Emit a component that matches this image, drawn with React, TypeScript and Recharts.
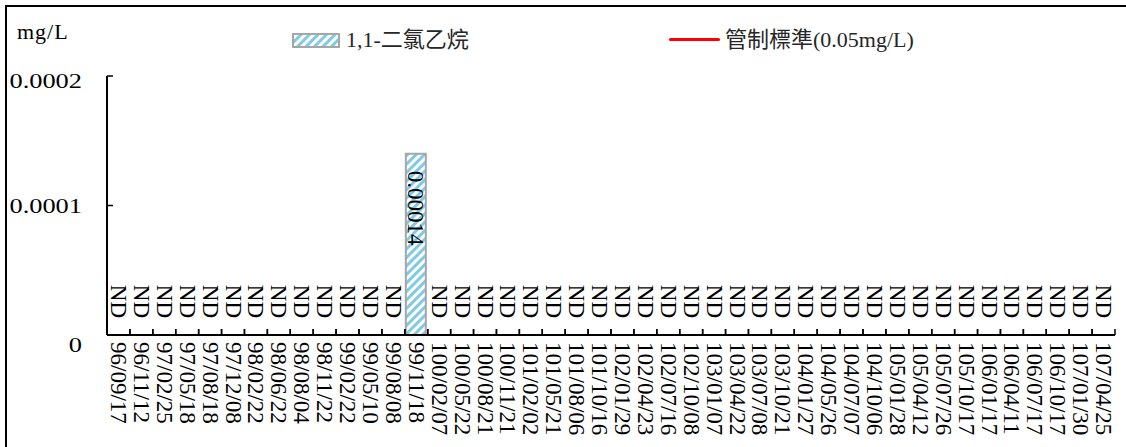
import { ComposedChart, Bar, Line, XAxis, YAxis } from "recharts";

const dates = [
  "96/09/17", "96/11/12", "97/02/25", "97/05/18", "97/08/18", "97/12/08",
  "98/02/22", "98/06/22", "98/08/04", "98/11/22", "99/02/22", "99/05/10",
  "99/08/08", "99/11/18", "100/02/07", "100/05/22", "100/08/21", "100/11/21",
  "101/02/02", "101/05/21", "101/08/06", "101/10/16", "102/01/29", "102/04/23",
  "102/07/16", "102/10/08", "103/01/07", "103/04/22", "103/07/08", "103/10/21",
  "104/01/27", "104/05/26", "104/07/07", "104/10/06", "105/01/28", "105/04/12",
  "105/07/26", "105/10/17", "106/01/17", "106/04/11", "106/07/17", "106/10/17",
  "107/01/30", "107/04/25",
];

// null = ND (not detected)
const dce: (number | null)[] = [
  null, null, null, null, null, null,
  null, null, null, null, null, null,
  null, 0.00014, null, null, null, null,
  null, null, null, null, null, null,
  null, null, null, null, null, null,
  null, null, null, null, null, null,
  null, null, null, null, null, null,
  null, null,
];

const limitValue = 0.05;
const yTicks = [0, 0.0001, 0.0002];

const seriesName = "1,1-二氯乙烷";
const limitName = "管制標準(0.05mg/L)";
const unit = "mg/L";

const data = dates.map((d, i) => ({ date: d, value: dce[i], limit: limitValue }));

const FONT = "'Liberation Serif', 'Times New Roman', 'Noto Sans CJK TC', serif";
const X_MARGIN = 7;
const Y_MARGIN = 26;
const HALF_BAND = 1008 / 44 / 2;

function DateTick(props: any) {
  const { x, y, payload, index } = props;
  const axisY = y - X_MARGIN;
  const half = payload?.offset || HALF_BAND;
  const nd = dce[index] == null;
  return (
    <g>
      <line x1={x - half} x2={x - half} y1={axisY} y2={axisY - 6} stroke="#000" strokeWidth={1.5} />
      <line x1={x + half} x2={x + half} y1={axisY} y2={axisY - 6} stroke="#000" strokeWidth={1.5} />
      {nd && (
        <text
          transform={`translate(${x},${axisY - 17}) rotate(90)`}
          textAnchor="end"
          dominantBaseline="central"
          fontSize={23}
          fontFamily={FONT}
          fill="#000"
        >
          ND
        </text>
      )}
      <text
        transform={`translate(${x},${axisY + 7}) rotate(90)`}
        textAnchor="start"
        dominantBaseline="central"
        fontSize={23}
        fontFamily={FONT}
        fill="#000"
      >
        {payload.value}
      </text>
    </g>
  );
}

function ValueTick(props: any) {
  const { x, y, payload } = props;
  const axisX = x + Y_MARGIN;
  // excel-ish label nudges: bottom label sits lower, top one a bit lower
  const dy = payload.value === 0 ? 9 : payload.value === yTicks[yTicks.length - 1] ? 4 : 0;
  return (
    <g>
      <line x1={axisX} x2={axisX + 6} y1={y} y2={y} stroke="#000" strokeWidth={1.5} />
      <text
        transform={`translate(${x + 1},${y + dy}) scale(1.2,1)`}
        textAnchor="end"
        dominantBaseline="central"
        fontSize={22}
        fontFamily={FONT}
        fill="#000"
      >
        {String(payload.value)}
      </text>
    </g>
  );
}

function BarValueLabel(props: any) {
  const { x, y, width, value } = props;
  if (value == null) return null;
  return (
    <text
      transform={`translate(${x + width / 2},${y + 17}) rotate(90)`}
      textAnchor="start"
      dominantBaseline="central"
      fontSize={23}
      fontFamily={FONT}
      fill="#000"
    >
      {value}
    </text>
  );
}

function Hatch({ id }: { id: string }) {
  return (
    <pattern id={id} width="6" height="6" patternUnits="userSpaceOnUse" patternTransform="rotate(45)">
      <rect width="6" height="6" fill="#fff" />
      <rect width="3" height="6" fill="#7fcbe6" />
    </pattern>
  );
}

export default function App() {
  return (
    <div style={{ position: "absolute", left: 0, top: 0, width: 1126, height: 447, background: "#fff", fontFamily: FONT }}>
      <div
        style={{
          position: "absolute",
          left: 5,
          top: 5,
          width: 1121,
          height: 442,
          borderTop: "2px solid #000",
          borderLeft: "2px solid #000",
        }}
      />
      <ComposedChart width={1126} height={447} data={data} margin={{ top: 76, right: 11, bottom: 0, left: 0 }}>
        <defs>
          <Hatch id="hatch" />
        </defs>
        <XAxis
          dataKey="date"
          height={112}
          interval={0}
          tickSize={0}
          tickMargin={X_MARGIN}
          tickLine={false}
          axisLine={{ stroke: "#000", strokeWidth: 2 }}
          tick={<DateTick />}
        />
        <XAxis xAxisId="top" dataKey="date" orientation="top" height={0} tick={false} tickLine={false} axisLine={{ stroke: "#a0a0a0", strokeWidth: 2 }} />
        <YAxis
          width={107}
          domain={[0, 0.0002]}
          ticks={yTicks}
          allowDataOverflow
          interval={0}
          tickSize={0}
          tickMargin={Y_MARGIN}
          tickLine={false}
          axisLine={{ stroke: "#000", strokeWidth: 2 }}
          tick={<ValueTick />}
        />
        <YAxis yAxisId="right" orientation="right" width={0} domain={[0, 0.0002]} tick={false} tickLine={false} axisLine={{ stroke: "#a0a0a0", strokeWidth: 2 }} />
        <Bar
          dataKey="value"
          name={seriesName}
          fill="url(#hatch)"
          stroke="#a6a6a6"
          strokeWidth={2}
          barSize={20}
          isAnimationActive={false}
          label={<BarValueLabel />}
        />
        <Line
          dataKey="limit"
          name={limitName}
          stroke="#ff0000"
          strokeWidth={3}
          dot={false}
          isAnimationActive={false}
        />
      </ComposedChart>

      <div style={{ position: "absolute", left: 17, top: 19, fontSize: 22, lineHeight: "26px", letterSpacing: 1 }}>{unit}</div>

      <svg style={{ position: "absolute", left: 292, top: 33 }} width={48} height={15}>
        <defs>
          <Hatch id="hatchLegend" />
        </defs>
        <rect x={1} y={1} width={46} height={13} fill="url(#hatchLegend)" stroke="#a6a6a6" strokeWidth={2} />
      </svg>
      <div style={{ position: "absolute", left: 346, top: 27, fontSize: 22, lineHeight: "26px", whiteSpace: "nowrap", color: "#262626" }}>{seriesName}</div>

      <div style={{ position: "absolute", left: 669, top: 38, width: 51, height: 3, background: "#ff0000", borderRadius: 2 }} />
      <div style={{ position: "absolute", left: 725, top: 27, fontSize: 22, lineHeight: "26px", whiteSpace: "nowrap", color: "#262626" }}>{limitName}</div>
    </div>
  );
}
